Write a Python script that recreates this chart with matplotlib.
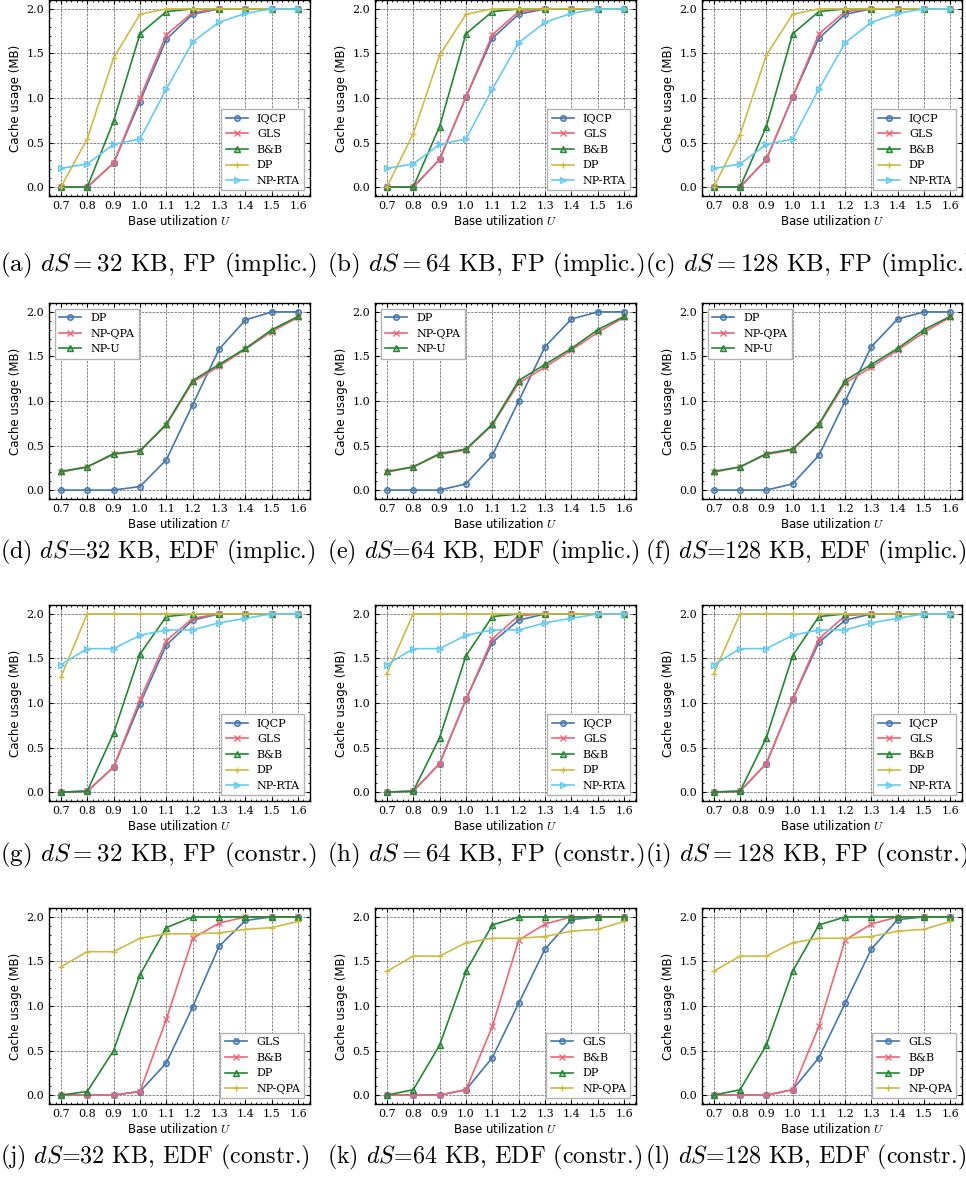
import matplotlib
matplotlib.use("Agg")
import matplotlib.pyplot as plt
from matplotlib.colors import to_rgba

util = [0.7, 0.8, 0.9, 1.0, 1.1, 1.2, 1.3, 1.4, 1.5, 1.6]

colors = ["#4477AA", "#EE6677", "#228833", "#CCBB44", "#66CCEE"]
markers = ["o", "x", "^", "+", ">"]

fp_names = ["IQCP", "GLS", "B&B", "DP", "NP-RTA"]
edf_impl_names = ["DP", "NP-QPA", "NP-U"]
edf_constr_names = ["GLS", "B&B", "DP", "NP-QPA"]

# (a) FP implicit, 32 KB
a_iqcp = [0, 0, 0.27, 0.96, 1.66, 1.94, 2.0, 2.0, 2.0, 2.0]
a_gls = [0, 0, 0.27, 1.00, 1.71, 1.96, 2.0, 2.0, 2.0, 2.0]
a_bb = [0, 0, 0.74, 1.72, 1.97, 2.0, 2.0, 2.0, 2.0, 2.0]
a_dp = [0, 0.54, 1.45, 1.94, 2.0, 2.0, 2.0, 2.0, 2.0, 2.0]
a_rta = [0.21, 0.26, 0.48, 0.54, 1.10, 1.63, 1.85, 1.95, 2.0, 2.0]
# (b) FP implicit, 64 KB
b_iqcp = [0, 0, 0.31, 1.01, 1.67, 1.94, 2.0, 2.0, 2.0, 2.0]
b_gls = [0, 0, 0.31, 1.01, 1.71, 1.97, 2.0, 2.0, 2.0, 2.0]
b_bb = [0, 0, 0.68, 1.72, 1.97, 2.0, 2.0, 2.0, 2.0, 2.0]
b_dp = [0, 0.60, 1.48, 1.94, 2.0, 2.0, 2.0, 2.0, 2.0, 2.0]
b_rta = [0.21, 0.26, 0.48, 0.54, 1.10, 1.62, 1.85, 1.95, 2.0, 2.0]
# (c) FP implicit, 128 KB
c_iqcp = [0, 0, 0.31, 1.01, 1.67, 1.94, 2.0, 2.0, 2.0, 2.0]
c_gls = [0, 0, 0.31, 1.01, 1.72, 1.97, 2.0, 2.0, 2.0, 2.0]
c_bb = [0, 0, 0.68, 1.72, 1.97, 2.0, 2.0, 2.0, 2.0, 2.0]
c_dp = [0, 0.59, 1.48, 1.94, 2.0, 2.0, 2.0, 2.0, 2.0, 2.0]
c_rta = [0.21, 0.26, 0.48, 0.54, 1.10, 1.62, 1.85, 1.95, 2.0, 2.0]

# (d) EDF implicit, 32 KB
d_dp = [0, 0, 0, 0.04, 0.34, 0.96, 1.58, 1.91, 2.0, 2.0]
d_qpa = [0.20, 0.26, 0.40, 0.44, 0.73, 1.21, 1.39, 1.58, 1.78, 1.94]
d_npu = [0.21, 0.26, 0.41, 0.44, 0.74, 1.23, 1.41, 1.59, 1.80, 1.95]
# (e) EDF implicit, 64 KB
e_dp = [0, 0, 0, 0.07, 0.39, 1.00, 1.61, 1.92, 2.0, 2.0]
e_qpa = [0.20, 0.26, 0.40, 0.45, 0.73, 1.20, 1.38, 1.57, 1.77, 1.94]
e_npu = [0.21, 0.26, 0.41, 0.46, 0.74, 1.23, 1.41, 1.59, 1.80, 1.95]
# (f) EDF implicit, 128 KB
f_dp = [0, 0, 0, 0.07, 0.39, 1.00, 1.61, 1.92, 2.0, 2.0]
f_qpa = [0.20, 0.26, 0.40, 0.45, 0.73, 1.20, 1.38, 1.57, 1.77, 1.94]
f_npu = [0.21, 0.26, 0.41, 0.46, 0.74, 1.23, 1.41, 1.59, 1.80, 1.95]

# (g) FP constrained, 32 KB
g_iqcp = [0, 0.01, 0.28, 0.99, 1.65, 1.93, 2.0, 2.0, 2.0, 2.0]
g_gls = [0, 0.01, 0.28, 1.04, 1.70, 1.95, 2.0, 2.0, 2.0, 2.0]
g_bb = [0, 0.01, 0.66, 1.55, 1.97, 2.0, 2.0, 2.0, 2.0, 2.0]
g_dp = [1.29, 2.0, 2.0, 2.0, 2.0, 2.0, 2.0, 2.0, 2.0, 2.0]
g_rta = [1.43, 1.61, 1.61, 1.76, 1.82, 1.82, 1.90, 1.95, 2.0, 2.0]
# (h) FP constrained, 64 KB
h_iqcp = [0, 0.01, 0.32, 1.04, 1.68, 1.93, 2.0, 2.0, 2.0, 2.0]
h_gls = [0, 0.01, 0.32, 1.04, 1.72, 1.98, 2.0, 2.0, 2.0, 2.0]
h_bb = [0, 0.01, 0.61, 1.53, 1.97, 2.0, 2.0, 2.0, 2.0, 2.0]
h_dp = [1.33, 2.0, 2.0, 2.0, 2.0, 2.0, 2.0, 2.0, 2.0, 2.0]
h_rta = [1.43, 1.61, 1.61, 1.76, 1.82, 1.82, 1.90, 1.95, 2.0, 2.0]
# (i) FP constrained, 128 KB
i_iqcp = [0, 0.01, 0.32, 1.04, 1.68, 1.93, 2.0, 2.0, 2.0, 2.0]
i_gls = [0, 0.01, 0.32, 1.04, 1.72, 1.98, 2.0, 2.0, 2.0, 2.0]
i_bb = [0, 0.01, 0.61, 1.53, 1.97, 2.0, 2.0, 2.0, 2.0, 2.0]
i_dp = [1.33, 2.0, 2.0, 2.0, 2.0, 2.0, 2.0, 2.0, 2.0, 2.0]
i_rta = [1.43, 1.61, 1.61, 1.76, 1.82, 1.82, 1.90, 1.95, 2.0, 2.0]

# (j) EDF constrained, 32 KB
j_gls = [0, 0, 0, 0.04, 0.36, 0.99, 1.67, 1.96, 2.0, 2.0]
j_bb = [0, 0, 0, 0.04, 0.85, 1.76, 1.93, 2.0, 2.0, 2.0]
j_dp = [0, 0.04, 0.50, 1.35, 1.88, 2.0, 2.0, 2.0, 2.0, 2.0]
j_qpa = [1.44, 1.61, 1.61, 1.76, 1.81, 1.81, 1.82, 1.86, 1.88, 1.95]
# (k) EDF constrained, 64 KB
k_gls = [0, 0, 0, 0.06, 0.42, 1.03, 1.64, 1.97, 2.0, 2.0]
k_bb = [0, 0, 0, 0.06, 0.77, 1.74, 1.92, 2.0, 2.0, 2.0]
k_dp = [0, 0.06, 0.56, 1.39, 1.91, 2.0, 2.0, 2.0, 2.0, 2.0]
k_qpa = [1.39, 1.56, 1.56, 1.71, 1.76, 1.76, 1.78, 1.84, 1.86, 1.95]
# (l) EDF constrained, 128 KB
l_gls = [0, 0, 0, 0.06, 0.42, 1.03, 1.64, 1.97, 2.0, 2.0]
l_bb = [0, 0, 0, 0.06, 0.77, 1.74, 1.92, 2.0, 2.0, 2.0]
l_dp = [0, 0.06, 0.56, 1.39, 1.91, 2.0, 2.0, 2.0, 2.0, 2.0]
l_qpa = [1.39, 1.56, 1.56, 1.71, 1.76, 1.76, 1.78, 1.84, 1.86, 1.95]

captions = [
    r"(a) $dS = 32$ KB, FP (implic.)",
    r"(b) $dS = 64$ KB, FP (implic.)",
    r"(c) $dS = 128$ KB, FP (implic.)",
    r"(d) $dS$=32 KB, EDF (implic.)",
    r"(e) $dS$=64 KB, EDF (implic.)",
    r"(f) $dS$=128 KB, EDF (implic.)",
    r"(g) $dS = 32$ KB, FP (constr.)",
    r"(h) $dS = 64$ KB, FP (constr.)",
    r"(i) $dS = 128$ KB, FP (constr.)",
    r"(j) $dS$=32 KB, EDF (constr.)",
    r"(k) $dS$=64 KB, EDF (constr.)",
    r"(l) $dS$=128 KB, EDF (constr.)",
]

panels = [
    (fp_names, [a_iqcp, a_gls, a_bb, a_dp, a_rta], "lower right"),
    (fp_names, [b_iqcp, b_gls, b_bb, b_dp, b_rta], "lower right"),
    (fp_names, [c_iqcp, c_gls, c_bb, c_dp, c_rta], "lower right"),
    (edf_impl_names, [d_dp, d_qpa, d_npu], "upper left"),
    (edf_impl_names, [e_dp, e_qpa, e_npu], "upper left"),
    (edf_impl_names, [f_dp, f_qpa, f_npu], "upper left"),
    (fp_names, [g_iqcp, g_gls, g_bb, g_dp, g_rta], "lower right"),
    (fp_names, [h_iqcp, h_gls, h_bb, h_dp, h_rta], "lower right"),
    (fp_names, [i_iqcp, i_gls, i_bb, i_dp, i_rta], "lower right"),
    (edf_constr_names, [j_gls, j_bb, j_dp, j_qpa], "lower right"),
    (edf_constr_names, [k_gls, k_bb, k_dp, k_qpa], "lower right"),
    (edf_constr_names, [l_gls, l_bb, l_dp, l_qpa], "lower right"),
]

plt.rcParams["font.family"] = "serif"
plt.rcParams["font.serif"] = ["DejaVu Serif"]
plt.rcParams["mathtext.fontset"] = "cm"
plt.rcParams["xtick.direction"] = "in"
plt.rcParams["ytick.direction"] = "in"
plt.rcParams["xtick.top"] = True
plt.rcParams["ytick.right"] = True
plt.rcParams["xtick.minor.visible"] = True
plt.rcParams["ytick.minor.visible"] = True
plt.rcParams["xtick.major.size"] = 3
plt.rcParams["ytick.major.size"] = 3
plt.rcParams["xtick.minor.size"] = 1.5
plt.rcParams["ytick.minor.size"] = 1.5
plt.rcParams["axes.linewidth"] = 1.0

W, H = 966, 1191
fig = plt.figure(figsize=(W / 100, H / 100), dpi=100)

col_left = [49, 375, 702]
col_width = [261, 261, 260]
row_top = [0, 303, 605, 908]
ax_height = 196
cap_y = [265, 552, 855, 1157]
cap_x = [0, 327, 645]
cap_size = [18, 17.3, 18, 17.3]

for k, (names, series, loc) in enumerate(panels):
    r, c = divmod(k, 3)
    ax = fig.add_axes([col_left[c] / W, 1 - (row_top[r] + ax_height) / H,
                       col_width[c] / W, ax_height / H])
    for s, (name, vals) in enumerate(zip(names, series)):
        ax.plot(util, vals, color=colors[s], marker=markers[s], markersize=4,
                markerfacecolor=to_rgba(colors[s], 0.4), markeredgecolor=colors[s],
                linewidth=1.2, label=name)
    ax.set_xticks(util)
    ax.set_xticklabels([f"{u:.1f}" for u in util])
    ax.set_yticks([0.0, 0.5, 1.0, 1.5, 2.0])
    ax.tick_params(labelsize=8)
    ax.grid(True, which="major", linestyle="--", linewidth=0.5, color="0.35")
    ax.set_xlabel(r"Base utilization $U$", fontsize=8.5, family="DejaVu Sans", labelpad=2)
    ax.set_ylabel("Cache usage (MB)", fontsize=8.5, family="DejaVu Sans", labelpad=3)
    ax.legend(loc=loc, fontsize=8, fancybox=False, framealpha=1, edgecolor="0.7")
    fig.text(cap_x[c] / W, 1 - cap_y[r] / H, captions[k], fontsize=cap_size[r],
             family="cmr10", ha="left", va="center")

fig.savefig("out.png", dpi=100)
